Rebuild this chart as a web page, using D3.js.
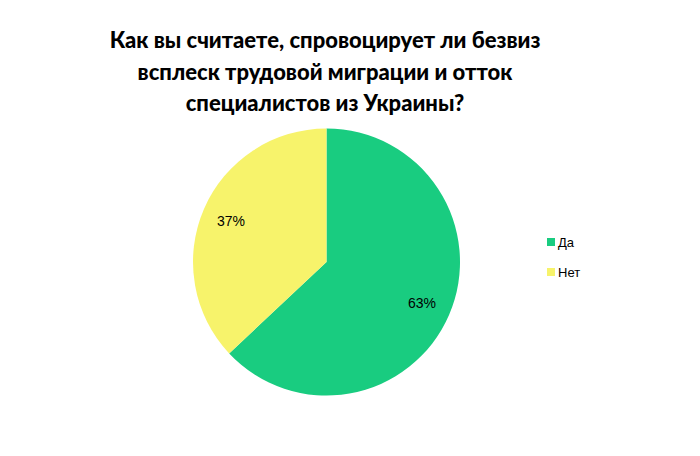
<!DOCTYPE html>
<html><head><meta charset="utf-8">
<script src="https://cdn.jsdelivr.net/npm/d3@7"></script>
<style>body{margin:0;background:#fff;}svg{display:block;}</style>
</head><body>
<svg id="chart" width="700" height="456"></svg>
<script>
const titleLines = ["Как вы считаете, спровоцирует ли безвиз", "всплеск трудовой миграции и отток", "специалистов из Украины?"];
const categories = ["Да", "Нет"];
const values = [63, 37];
const colors = ["#19cc80", "#f7f36b"];

const svg = d3.select("#chart");
const cx = 326.5, cy = 262, r = 133.5;

svg.append("g").selectAll("text").data(titleLines).join("text")
  .attr("x", 325).attr("y", (d, i) => 48 + i * 31.5)
  .attr("text-anchor", "middle")
  .style("font-family", "Lato, 'Open Sans', sans-serif")
  .style("font-weight", "900").style("font-size", "22px").style("fill", "#000")
  .text(d => d);

const pie = d3.pie().sort(null).value(d => d.v);
const data = pie(categories.map((c, i) => ({c, v: values[i], col: colors[i]})));
const arc = d3.arc().innerRadius(0).outerRadius(r);
const labelArc = d3.arc().innerRadius(104).outerRadius(104);

const g = svg.append("g").attr("transform", `translate(${cx},${cy})`);
g.selectAll("path").data(data).join("path")
  .attr("d", arc).attr("fill", d => d.data.col);
g.selectAll("text").data(data).join("text")
  .attr("transform", d => `translate(${labelArc.centroid(d)})`)
  .attr("text-anchor", "middle").attr("dy", "0.35em")
  .style("font-family", "'Liberation Sans', Arial, sans-serif").style("font-size", "14px")
  .text(d => Math.round(d.data.v) + "%");

const leg = svg.append("g").selectAll("g").data(categories).join("g")
  .attr("transform", (d, i) => `translate(547,${238 + i * 30})`);
leg.append("rect").attr("width", 8).attr("height", 8).attr("fill", (d, i) => colors[i]);
leg.append("text").attr("x", 11).attr("y", 8.5)
  .style("font-family", "'Liberation Sans', Arial, sans-serif").style("font-size", "13px")
  .text(d => d);
</script>
</body></html>
